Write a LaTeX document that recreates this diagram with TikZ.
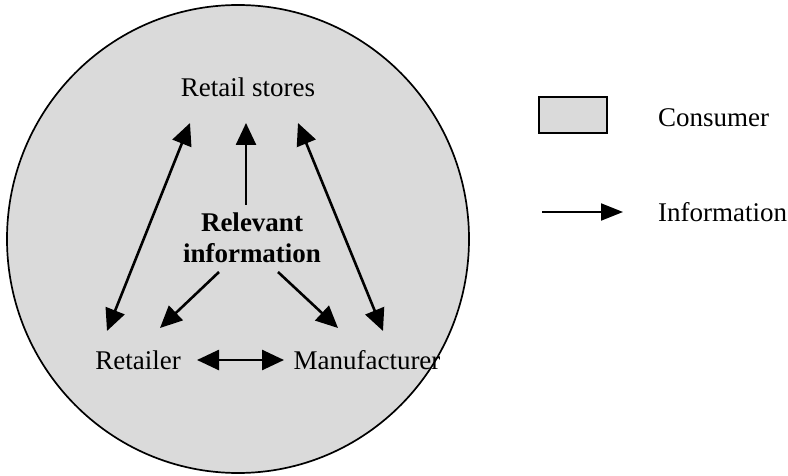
\documentclass[tikz,border=0pt]{standalone}
\usepackage{fontspec}
\setmainfont{Liberation Serif}
\usetikzlibrary{arrows.meta}
\definecolor{consumer}{RGB}{218,218,218}
\begin{document}
\begin{tikzpicture}[x=1pt,y=-1pt,
  lbl/.style={font=\fontsize{27}{31}\selectfont, inner sep=0pt, align=center},
  flow/.style={line width=2.6pt, -{Triangle[length=22pt,width=20pt]}},
  twoway/.style={line width=2.6pt, {Triangle[length=22pt,width=20pt]}-{Triangle[length=22pt,width=20pt]}},
  ring/.style={draw=black, line width=1.7pt, fill=consumer}]
\useasboundingbox (0,0) rectangle (788,476);
\fill[white] (0,0) rectangle (788,476);

% consumer sphere
\draw[ring] (238,239) ellipse [x radius=231pt, y radius=234pt];

% actors
\node[lbl] (stores) at (248,87) {Retail stores};
\node[lbl, font=\fontsize{27}{31}\selectfont\bfseries] (rel) at (252,238) {Relevant\\information};
\node[lbl] (ret) at (138,360) {Retailer};
\node[lbl] (man) at (367,360) {Manufacturer};

% arrow end points
\coordinate (l1) at (107,331);
\coordinate (l2) at (190,123);
\coordinate (c1) at (246,205);
\coordinate (c2) at (246,123);
\coordinate (r1) at (298,123);
\coordinate (r2) at (383,331);
\coordinate (d1) at (219,272);
\coordinate (d2) at (160,328);
\coordinate (e1) at (278,272);
\coordinate (e2) at (338,328);
\coordinate (h1) at (197,360);
\coordinate (h2) at (284,360);

% information flows
\draw[twoway] (l1) -- (l2);
\draw[flow] (c1) -- (c2);
\draw[twoway] (r1) -- (r2);
\draw[flow] (d1) -- (d2);
\draw[flow] (e1) -- (e2);
\draw[twoway] (h1) -- (h2);

% legend
\draw[ring] (539,97) rectangle (607,133);
\node[lbl, anchor=west] (lgcons) at (658,118) {Consumer};
\coordinate (la1) at (542,212);
\coordinate (la2) at (623,212);
\draw[line width=2pt, -{Triangle[length=22pt,width=17pt]}] (la1) -- (la2);
\node[lbl, anchor=west] (lginfo) at (658,212) {Information};
\end{tikzpicture}
\end{document}
